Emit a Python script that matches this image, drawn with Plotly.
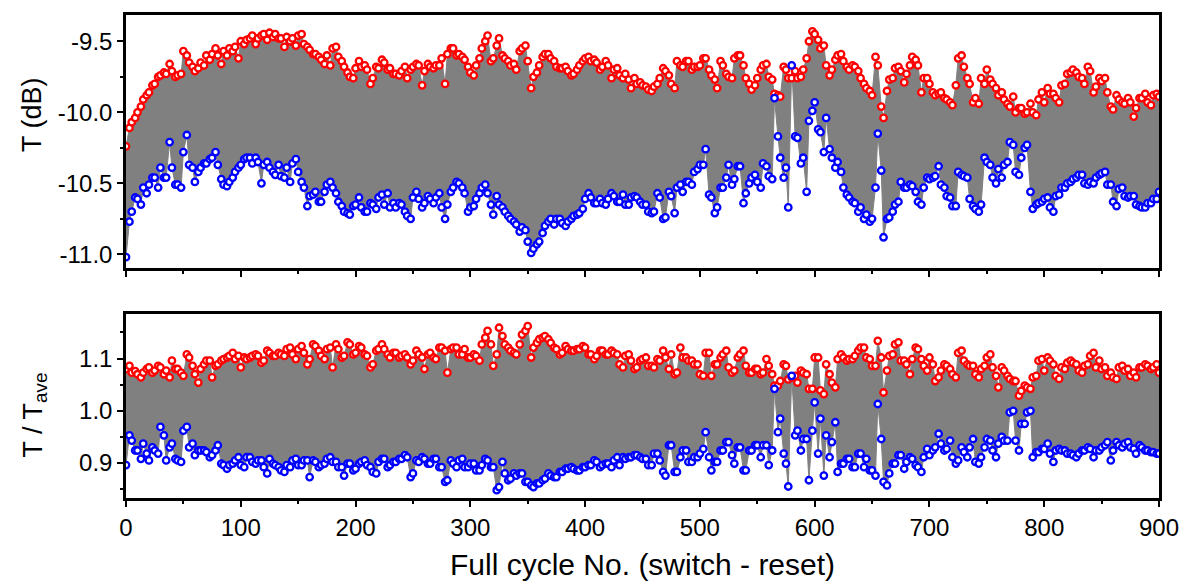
import plotly.graph_objects as go

# ---------------- data ----------------
# readings on a 5-cycle grid, plus readings taken half-way between grid cycles
cycles = list(range(0, 576, 5)) + [577] + list(range(580, 901, 5))
half_cycles = [c for c in range(3, 900, 5) if c != 578]

# top panel: transmission in dB (red = switch state, blue = reset state)
t_switch_db = [
    -10.24, -10.07, -10.00, -9.91, -9.86, -9.80, -9.74, -9.73, -9.71, -9.74,
    -9.57, -9.65, -9.71, -9.65, -9.60, -9.59, -9.60, -9.57, -9.55, -9.54,
    -9.50, -9.49, -9.46, -9.48, -9.45, -9.44, -9.45, -9.48, -9.47, -9.48,
    -9.46, -9.52, -9.56, -9.59, -9.63, -9.60, -9.55, -9.61, -9.68, -9.75,
    -9.69, -9.68, -9.70, -9.76, -9.69, -9.65, -9.69, -9.73, -9.71, -9.76,
    -9.68, -9.67, -9.71, -9.68, -9.67, -9.62, -9.59, -9.55, -9.59, -9.63,
    -9.72, -9.67, -9.55, -9.46, -9.62, -9.48, -9.62, -9.67, -9.70, -9.55,
    -9.64, -9.75, -9.67, -9.59, -9.62, -9.68, -9.69, -9.71, -9.73, -9.67,
    -9.62, -9.64, -9.65, -9.68, -9.67, -9.70, -9.74, -9.73, -9.83, -9.80,
    -9.81, -9.84, -9.82, -9.76, -9.71, -9.80, -9.64, -9.68, -9.64, -9.68,
    -9.67, -9.62, -9.74, -9.83, -9.67, -9.75, -9.62, -9.60, -9.76, -9.84,
    -9.76, -9.67, -9.75, -9.87, -9.89, -9.70, -9.76, -9.76, -9.76, -9.70, -9.50,
    -9.45, -9.55, -9.67, -9.70, -9.60, -9.64, -9.70, -9.68, -9.76, -9.83,
    -9.88, -9.67, -10.04, -9.77, -9.69, -9.71, -9.73, -9.61, -9.67, -9.76,
    -9.80, -9.88, -9.86, -9.91, -9.95, -9.62, -9.68, -9.80, -9.90, -9.76,
    -9.70, -9.80, -9.88, -9.91, -9.96, -10.00, -9.97, -10.00, -10.00, -9.91,
    -9.93, -9.87, -9.90, -9.81, -9.73, -9.70, -9.75, -9.80, -9.71, -9.82,
    -9.78, -9.86, -9.98, -9.91, -9.94, -9.93, -9.97, -9.90, -9.93, -9.88,
    -9.89,
]
t_switch_db_half = [
    -10.11, -10.04, -9.96, -9.88, -9.81, -9.75, -9.72, -9.66, -9.75, -9.73,
    -9.60, -9.68, -9.69, -9.67, -9.63, -9.55, -9.66, -9.60, -9.57, -9.62,
    -9.52, -9.48, -9.52, -9.46, -9.49, -9.47, -9.48, -9.54, -9.50, -9.53,
    -9.45, -9.54, -9.59, -9.61, -9.66, -9.67, -9.54, -9.64, -9.72, -9.76,
    -9.64, -9.67, -9.80, -9.68, -9.63,
    -9.70, -9.73, -9.74, -9.68, -9.70, -9.66, -9.81, -9.66, -9.69, -9.67,
    -9.80, -9.55, -9.60, -9.61, -9.68, -9.74, -9.62, -9.50, -9.64, -9.53,
    -9.60, -9.64, -9.66, -9.57, -9.53, -9.83, -9.72, -9.61, -9.59, -9.64,
    -9.69, -9.68, -9.74, -9.70, -9.64, -9.61, -9.63, -9.70, -9.64, -9.76,
    -9.69, -9.76, -9.77, -9.76,
    -9.79, -9.82, -9.85, -9.80, -9.69, -9.74, -9.83, -9.67, -9.64, -9.70,
    -9.68, -9.62, -9.70, -9.77, -9.64, -9.73, -9.76, -9.60, -9.67, -9.80,
    -9.81, -9.70, -9.66, -9.77, -9.88, -9.68,
    -9.71, -9.75, -9.62, -9.43, -9.49, -9.53, -9.74, -9.63, -9.59, -9.68,
    -9.67, -9.71, -9.80, -9.85, -9.61, -9.96, -9.85, -9.76, -9.68,
    -9.79, -9.67, -9.63, -9.86, -9.76, -9.86, -9.87, -9.90, -9.93, -9.81,
    -9.60, -9.76, -9.93, -9.94, -9.80, -9.77, -9.83, -9.86, -9.94, -9.89,
    -9.97, -10.01, -9.94, -10.02, -9.86, -9.83, -9.87, -9.93, -9.80, -9.72,
    -9.72, -9.76, -9.68, -9.86, -9.76, -9.76, -9.96, -9.88, -9.93, -9.90,
    -10.03, -9.90, -9.87, -9.95, -9.87,
]
t_reset_db = [
    -11.02, -10.70, -10.61, -10.53, -10.51, -10.46, -10.39, -10.46, -10.39, -10.51,
    -10.28, -10.37, -10.49, -10.39, -10.36, -10.32, -10.37, -10.51, -10.49, -10.42,
    -10.37, -10.32, -10.36, -10.35, -10.37, -10.39, -10.44, -10.45, -10.39, -10.36,
    -10.42, -10.53, -10.59, -10.56, -10.63, -10.51, -10.53, -10.63, -10.70, -10.72,
    -10.65, -10.67, -10.70, -10.65, -10.60, -10.65, -10.67, -10.67, -10.65, -10.73,
    -10.60, -10.61, -10.64, -10.61, -10.60, -10.67, -10.65, -10.53, -10.50, -10.57,
    -10.67, -10.61, -10.53, -10.57, -10.72, -10.65, -10.70, -10.75, -10.79, -10.81,
    -10.91, -10.96, -10.91, -10.80, -10.75, -10.75, -10.78, -10.77, -10.73, -10.71,
    -10.61, -10.60, -10.64, -10.64, -10.61, -10.59, -10.63, -10.65, -10.60, -10.60,
    -10.65, -10.70, -10.70, -10.60, -10.74, -10.59, -10.53, -10.56, -10.49, -10.42,
    -10.37, -10.26, -10.60, -10.67, -10.53, -10.37, -10.47, -10.38, -10.57, -10.46,
    -10.49, -10.36, -10.45, -9.90, -10.32, -10.39, -10.67, -9.67, -10.18, -10.32, -10.06,
    -9.93, -10.14, -10.04, -10.32, -10.35, -10.53, -10.60, -10.64, -10.67, -10.72,
    -10.75, -10.15, -10.88, -10.74, -10.65, -10.49, -10.53, -10.52, -10.63, -10.53,
    -10.47, -10.45, -10.51, -10.59, -10.66, -10.42, -10.45, -10.61, -10.68, -10.65,
    -10.35, -10.46, -10.40, -10.37, -10.21, -10.42, -10.32, -10.23, -10.68, -10.64,
    -10.61, -10.67, -10.59, -10.53, -10.50, -10.47, -10.44, -10.50, -10.49, -10.46,
    -10.43, -10.51, -10.63, -10.54, -10.59, -10.59, -10.65, -10.67, -10.64, -10.61,
    -10.56,
]
t_reset_db_half = [
    -10.77, -10.60, -10.65, -10.57, -10.46, -10.53, -10.46, -10.21, -10.51, -10.53,
    -10.16, -10.39, -10.42, -10.36, -10.33, -10.28, -10.47, -10.52, -10.46, -10.39,
    -10.33, -10.32, -10.32, -10.50, -10.35, -10.42, -10.37, -10.46, -10.49, -10.33,
    -10.49, -10.66, -10.58, -10.63, -10.56, -10.49, -10.57, -10.66, -10.71, -10.66,
    -10.60, -10.70, -10.64, -10.68, -10.58,
    -10.57, -10.64, -10.64, -10.70, -10.75, -10.56, -10.67, -10.59, -10.64, -10.57,
    -10.75, -10.56, -10.49, -10.53, -10.70, -10.66, -10.57, -10.51, -10.65, -10.59,
    -10.67, -10.73, -10.77, -10.84, -10.83, -10.99, -10.93, -10.85, -10.77, -10.79,
    -10.75, -10.80, -10.75, -10.72, -10.68, -10.57, -10.64, -10.61, -10.65, -10.57,
    -10.63, -10.58, -10.65, -10.59,
    -10.63, -10.65, -10.71, -10.57, -10.75, -10.56, -10.71, -10.51, -10.49, -10.51,
    -10.40, -10.37, -10.58, -10.71, -10.53, -10.46, -10.51, -10.38, -10.64, -10.50,
    -10.44, -10.53, -10.38, -10.47, -10.17, -10.46,
    -10.17, -10.36, -10.56, -9.99, -10.12, -10.28, -10.26, -10.39, -10.42, -10.58,
    -10.63, -10.70, -10.75, -10.77, -10.53, -10.41, -10.75, -10.70, -10.63,
    -10.53, -10.51, -10.56, -10.65, -10.46, -10.46, -10.38, -10.53, -10.60, -10.66,
    -10.44, -10.46, -10.66, -10.70, -10.32, -10.37, -10.50, -10.46, -10.35, -10.23,
    -10.44, -10.25, -10.56, -10.65, -10.63, -10.60, -10.70, -10.58, -10.53, -10.49,
    -10.46, -10.44, -10.51, -10.50, -10.44, -10.42, -10.51, -10.66, -10.53, -10.60,
    -10.59, -10.66, -10.67, -10.64, -10.61,
]

# bottom panel: T / T_ave
ratio_switch = [
    1.080, 1.073, 1.070, 1.073, 1.083, 1.077, 1.083, 1.077, 1.096, 1.080,
    1.067, 1.102, 1.070, 1.080, 1.096, 1.064, 1.089, 1.099, 1.105, 1.099,
    1.083, 1.099, 1.105, 1.105, 1.096, 1.111, 1.105, 1.108, 1.118, 1.108,
    1.118, 1.111, 1.099, 1.124, 1.105, 1.118, 1.083, 1.118, 1.105, 1.127,
    1.111, 1.121, 1.105, 1.089, 1.118, 1.118, 1.102, 1.111, 1.105, 1.102,
    1.096, 1.108, 1.080, 1.111, 1.099, 1.121, 1.073, 1.121, 1.108, 1.118,
    1.102, 1.105, 1.127, 1.153, 1.086, 1.159, 1.127, 1.115, 1.108, 1.146,
    1.162, 1.121, 1.137, 1.143, 1.130, 1.118, 1.111, 1.118, 1.115, 1.118,
    1.121, 1.108, 1.105, 1.115, 1.108, 1.111, 1.089, 1.105, 1.096, 1.083,
    1.099, 1.086, 1.083, 1.096, 1.102, 1.108, 1.073, 1.102, 1.096, 1.089,
    1.070, 1.111, 1.067, 1.089, 1.108, 1.083, 1.077, 1.108, 1.086, 1.073,
    1.080, 1.073, 1.086, 1.048, 1.057, 1.086, 1.060, 1.064, 1.054, 1.073, 1.042,
    1.102, 1.039, 1.089, 1.054, 1.099, 1.102, 1.099, 1.105, 1.121, 1.102,
    1.086, 1.134, 1.035, 1.105, 1.127, 1.096, 1.089, 1.099, 1.118, 1.086,
    1.102, 1.057, 1.077, 1.086, 1.070, 1.111, 1.096, 1.086, 1.070, 1.080,
    1.102, 1.083, 1.045, 1.077, 1.061, 1.057, 1.038, 1.045, 1.064, 1.096,
    1.077, 1.096, 1.067, 1.083, 1.092, 1.092, 1.077, 1.086, 1.105, 1.083,
    1.080, 1.067, 1.064, 1.083, 1.077, 1.067, 1.064, 1.083, 1.086, 1.083,
    1.073,
]
ratio_switch_half = [
    1.086, 1.076, 1.064, 1.080, 1.073, 1.086, 1.070, 1.064, 1.080, 1.073,
    1.108, 1.086, 1.054, 1.089, 1.096, 1.086, 1.096, 1.102, 1.111, 1.105,
    1.102, 1.102, 1.108, 1.092, 1.115, 1.105, 1.111, 1.105, 1.121, 1.099,
    1.124, 1.089, 1.127, 1.115, 1.099, 1.121, 1.127, 1.102, 1.131, 1.108,
    1.124, 1.108, 1.083, 1.115, 1.127,
    1.108, 1.111, 1.102, 1.108, 1.089, 1.115, 1.102, 1.108, 1.102, 1.121,
    1.115, 1.118, 1.121, 1.108, 1.102, 1.108, 1.096, 1.140, 1.127, 1.108,
    1.143, 1.121, 1.111, 1.127, 1.153, 1.102, 1.130, 1.140, 1.137, 1.121,
    1.108, 1.124, 1.115, 1.118, 1.124, 1.108, 1.099, 1.115, 1.108, 1.115,
    1.108, 1.083, 1.108, 1.080,
    1.096, 1.102, 1.086, 1.099, 1.115, 1.080, 1.070, 1.121, 1.102, 1.096,
    1.089, 1.067, 1.111, 1.089, 1.102, 1.115, 1.073, 1.102, 1.115, 1.073,
    1.080, 1.070, 1.099, 1.070, 1.048, 1.089,
    1.067, 1.077, 1.070, 1.042, 1.102, 1.032, 1.070, 1.045, 1.108, 1.096,
    1.099, 1.115, 1.121, 1.099, 1.086, 1.102, 1.077, 1.108, 1.131,
    1.096, 1.070, 1.121, 1.099, 1.077, 1.089, 1.064, 1.089, 1.080, 1.064,
    1.115, 1.089, 1.086, 1.064, 1.086, 1.108, 1.067, 1.083, 1.067, 1.057,
    1.029, 1.048, 1.042, 1.067, 1.099, 1.102, 1.089, 1.061, 1.080, 1.096,
    1.089, 1.073, 1.089, 1.111, 1.096, 1.083, 1.073, 1.061, 1.086, 1.080,
    1.073, 1.083, 1.089, 1.080, 1.089,
]
ratio_reset = [
    0.896, 0.943, 0.924, 0.937, 0.905, 0.924, 0.969, 0.905, 0.937, 0.905,
    0.962, 0.930, 0.915, 0.924, 0.921, 0.915, 0.934, 0.896, 0.896, 0.905,
    0.896, 0.911, 0.902, 0.905, 0.892, 0.908, 0.896, 0.886, 0.896, 0.905,
    0.896, 0.905, 0.873, 0.902, 0.896, 0.908, 0.902, 0.892, 0.876, 0.899,
    0.889, 0.902, 0.896, 0.883, 0.902, 0.908, 0.896, 0.902, 0.908, 0.911,
    0.880, 0.902, 0.908, 0.899, 0.908, 0.892, 0.867, 0.899, 0.905, 0.892,
    0.899, 0.886, 0.896, 0.905, 0.892, 0.854, 0.880, 0.870, 0.876, 0.880,
    0.864, 0.854, 0.861, 0.870, 0.876, 0.873, 0.883, 0.889, 0.889, 0.886,
    0.892, 0.896, 0.902, 0.896, 0.899, 0.905, 0.896, 0.908, 0.911, 0.915,
    0.908, 0.896, 0.918, 0.905, 0.876, 0.934, 0.883, 0.924, 0.902, 0.911,
    0.918, 0.959, 0.886, 0.902, 0.924, 0.940, 0.899, 0.930, 0.886, 0.924,
    0.934, 0.934, 0.896, 1.042, 0.985, 0.899, 0.855, 1.067, 0.962, 0.946, 0.867,
    1.016, 0.985, 0.953, 0.940, 0.883, 0.899, 0.908, 0.892, 0.918, 0.908,
    0.886, 1.013, 0.864, 0.880, 0.899, 0.915, 0.902, 0.908, 0.892, 0.911,
    0.915, 0.930, 0.937, 0.927, 0.911, 0.905, 0.921, 0.930, 0.902, 0.911,
    0.946, 0.924, 0.937, 0.943, 0.997, 0.943, 0.975, 0.997, 0.911, 0.921,
    0.927, 0.918, 0.924, 0.924, 0.918, 0.915, 0.918, 0.924, 0.927, 0.924,
    0.930, 0.940, 0.924, 0.934, 0.937, 0.930, 0.918, 0.930, 0.924, 0.921,
    0.918,
]
ratio_reset_half = [
    0.953, 0.924, 0.908, 0.918, 0.930, 0.918, 0.953, 0.930, 0.908, 0.902,
    0.969, 0.937, 0.924, 0.924, 0.911, 0.924, 0.899, 0.889, 0.899, 0.911,
    0.892, 0.911, 0.899, 0.905, 0.880, 0.899, 0.892, 0.883, 0.892, 0.908,
    0.896, 0.905, 0.905, 0.892, 0.899, 0.911, 0.902, 0.892, 0.899, 0.886,
    0.899, 0.905, 0.892, 0.880, 0.908,
    0.892, 0.902, 0.908, 0.915, 0.873, 0.905, 0.911, 0.899, 0.908, 0.892,
    0.864, 0.905, 0.892, 0.908, 0.892, 0.899, 0.886, 0.908, 0.892, 0.848,
    0.902, 0.867, 0.880, 0.880, 0.864, 0.857, 0.861, 0.867, 0.880, 0.873,
    0.883, 0.889, 0.892, 0.886, 0.892, 0.896, 0.905, 0.892, 0.899, 0.892,
    0.911, 0.911, 0.911, 0.915,
    0.911, 0.908, 0.896, 0.918, 0.883, 0.934, 0.883, 0.911, 0.924, 0.902,
    0.911, 0.927, 0.911, 0.902, 0.924, 0.940, 0.915, 0.930, 0.886, 0.924,
    0.934, 0.911, 0.934, 0.924, 0.959, 0.918,
    0.953, 0.924, 0.946, 0.962, 0.918, 0.876, 0.911, 0.978, 0.899, 0.908,
    0.892, 0.918, 0.892, 0.886, 0.876, 0.946, 0.857, 0.899, 0.915,
    0.889, 0.911, 0.896, 0.883, 0.927, 0.924, 0.956, 0.924, 0.943, 0.899,
    0.930, 0.911, 0.946, 0.899, 0.930, 0.943, 0.911, 0.950, 0.943, 1.000,
    0.924, 0.975, 1.000, 0.921, 0.927, 0.937, 0.902, 0.927, 0.924, 0.918,
    0.911, 0.924, 0.930, 0.911, 0.924, 0.934, 0.905, 0.940, 0.930, 0.940,
    0.927, 0.934, 0.924, 0.921, 0.918,
]

top_ticks = [-11.0, -10.5, -10.0, -9.5]
top_tick_text = ["-11.0", "-10.5", "-10.0", "-9.5"]
bottom_ticks = [0.9, 1.0, 1.1]
bottom_tick_text = ["0.9", "1.0", "1.1"]
x_ticks = [0, 100, 200, 300, 400, 500, 600, 700, 800, 900]

for arr in (t_switch_db, t_reset_db, ratio_switch, ratio_reset):
    assert len(arr) == len(cycles), (len(arr), len(cycles))
for arr in (t_switch_db_half, t_reset_db_half, ratio_switch_half, ratio_reset_half):
    assert len(arr) == len(half_cycles), (len(arr), len(half_cycles))


def merged(main_vals, half_vals):
    pairs = sorted(list(zip(cycles, main_vals)) + list(zip(half_cycles, half_vals)))
    return [p[0] for p in pairs], [p[1] for p in pairs]


# ---------------- figure ----------------
FONT = "Liberation Sans, Arial, Helvetica, sans-serif"
GRAY = "#808080"
RED = "#ff0000"
BLUE = "#0000ff"

fig = go.Figure()


def add_panel(xa, ya, hi_main, hi_half, lo_main, lo_half):
    xs, hi = merged(hi_main, hi_half)
    _, lo = merged(lo_main, lo_half)
    fig.add_trace(go.Scatter(x=xs, y=hi, mode="lines", xaxis=xa, yaxis=ya,
                             line=dict(color=GRAY, width=1), showlegend=False,
                             hoverinfo="skip"))
    fig.add_trace(go.Scatter(x=xs, y=lo, mode="lines", xaxis=xa, yaxis=ya,
                             line=dict(color=GRAY, width=1), fill="tonexty",
                             fillcolor=GRAY, showlegend=False, hoverinfo="skip"))
    fig.add_trace(go.Scatter(x=xs, y=hi, mode="markers", xaxis=xa, yaxis=ya,
                             marker=dict(symbol="circle", size=6.5, color="white",
                                         line=dict(color=RED, width=2.3)),
                             showlegend=False))
    fig.add_trace(go.Scatter(x=xs, y=lo, mode="markers", xaxis=xa, yaxis=ya,
                             marker=dict(symbol="circle", size=6.5, color="white",
                                         line=dict(color=BLUE, width=2.3)),
                             showlegend=False))


add_panel("x", "y", t_switch_db, t_switch_db_half, t_reset_db, t_reset_db_half)
add_panel("x2", "y2", ratio_switch, ratio_switch_half, ratio_reset, ratio_reset_half)

axis_common = dict(
    showline=True, mirror=True, linecolor="black", linewidth=2.5,
    showgrid=False, zeroline=False, ticks="outside", ticklen=6, tickwidth=2,
    tickcolor="black", tickfont=dict(family=FONT, size=24, color="black"),
)

fig.update_layout(
    width=1191, height=588,
    margin=dict(l=126, r=31, t=13, b=90),
    paper_bgcolor="white", plot_bgcolor="white",
    showlegend=False,
    xaxis=dict(domain=[0, 1], anchor="y", range=[0, 900], tickvals=x_ticks,
               showticklabels=False,
               minor=dict(dtick=50, ticks="outside", ticklen=3.5, tickwidth=2,
                          tickcolor="black"),
               **axis_common),
    yaxis=dict(domain=[0.4766, 1], anchor="x", range=[-11.095, -9.315],
               tickvals=top_ticks, ticktext=top_tick_text,
               minor=dict(dtick=0.25, ticks="outside", ticklen=3.5, tickwidth=2,
                          tickcolor="black"),
               **axis_common),
    xaxis2=dict(domain=[0, 1], anchor="y2", range=[0, 900], tickvals=x_ticks,
                minor=dict(dtick=50, ticks="outside", ticklen=3.5, tickwidth=2,
                           tickcolor="black"),
                **axis_common),
    yaxis2=dict(domain=[0, 0.3806], anchor="x2", range=[0.833, 1.185],
                tickvals=bottom_ticks, ticktext=bottom_tick_text,
                minor=dict(dtick=0.05, ticks="outside", ticklen=3.5, tickwidth=2,
                           tickcolor="black"),
                **axis_common),
    annotations=[
        dict(text="Full cycle No. (switch - reset)", xref="paper", yref="paper",
             x=0.5, y=-0.138, xanchor="center", yanchor="middle", showarrow=False,
             font=dict(family=FONT, size=30, color="black")),
        dict(text="T (dB)", xref="paper", yref="paper", x=-0.091, y=0.795,
             xanchor="center", yanchor="middle", textangle=-90, showarrow=False,
             font=dict(family=FONT, size=27, color="black")),
        dict(text="T / T<sub>ave</sub>", xref="paper", yref="paper", x=-0.088, y=0.171,
             xanchor="center", yanchor="middle", textangle=-90, showarrow=False,
             font=dict(family=FONT, size=27, color="black")),
    ],
)

fig.write_html("out.html")
